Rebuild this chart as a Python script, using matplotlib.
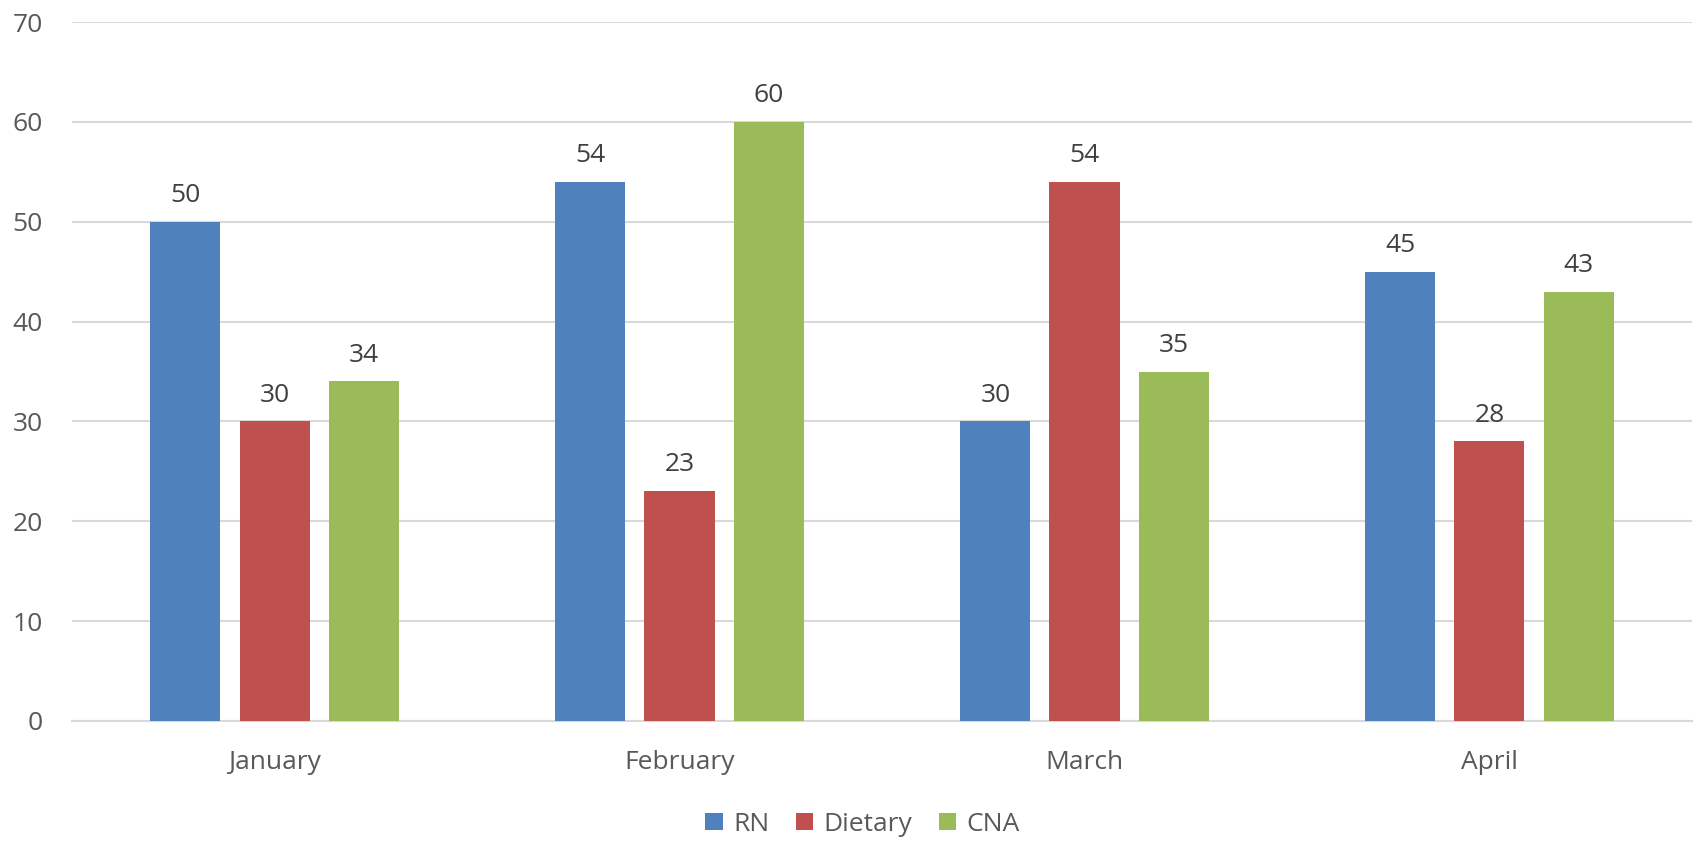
import numpy as np
import matplotlib
matplotlib.use("Agg")
import matplotlib.pyplot as plt

months = ["January", "February", "March", "April"]
series = ["RN", "Dietary", "CNA"]
rn = [50, 54, 30, 45]
dietary = [30, 23, 54, 28]
cna = [34, 60, 35, 43]
yticks = [0, 10, 20, 30, 40, 50, 60, 70]

colors = ["#4f81bd", "#c0504d", "#9bbb59"]
text_col = "#595959"

plt.rcParams['font.family'] = ['Open Sans', 'DejaVu Sans']

fig = plt.figure(figsize=(16.96, 8.41), dpi=100)
ax = fig.add_axes((0.0425, 0.1427, 0.9551, 0.8311))

x = np.arange(len(months))
width = 0.173
step = 0.22
for i, (name, vals) in enumerate(zip(series, [rn, dietary, cna])):
    pos = x + (i - 1) * step
    bars = ax.bar(pos, vals, width, color=colors[i], label=name, zorder=3)
    for b, v in zip(bars, vals):
        ax.annotate(str(v), (b.get_x() + b.get_width() / 2, v),
                    xytext=(0, 10), textcoords="offset points",
                    ha="center", va="bottom", fontsize=19, color="#404040")

ax.set_xlim(-0.5, len(months) - 0.5)
ax.set_ylim(0, 70)
ax.set_yticks(yticks)
ax.set_xticks(x)
ax.set_xticklabels(months)
ax.grid(axis="y", color="#d9d9d9", linewidth=1.5, zorder=0)
for s in ["top", "right", "left"]:
    ax.spines[s].set_visible(False)
ax.spines["bottom"].set_color("#d9d9d9")
ax.spines["bottom"].set_linewidth(1.5)
ax.tick_params(axis="both", length=0, labelsize=19, colors=text_col)
ax.tick_params(axis="y", pad=21)
ax.tick_params(axis="x", pad=21)

ax.legend(loc="center", bbox_to_anchor=(0.488, -0.148), ncol=3,
          frameon=False, fontsize=19, handlelength=0.65, handleheight=0.65,
          handletextpad=0.4, columnspacing=1.0, labelcolor=text_col)

fig.savefig("out.png", dpi=100)
